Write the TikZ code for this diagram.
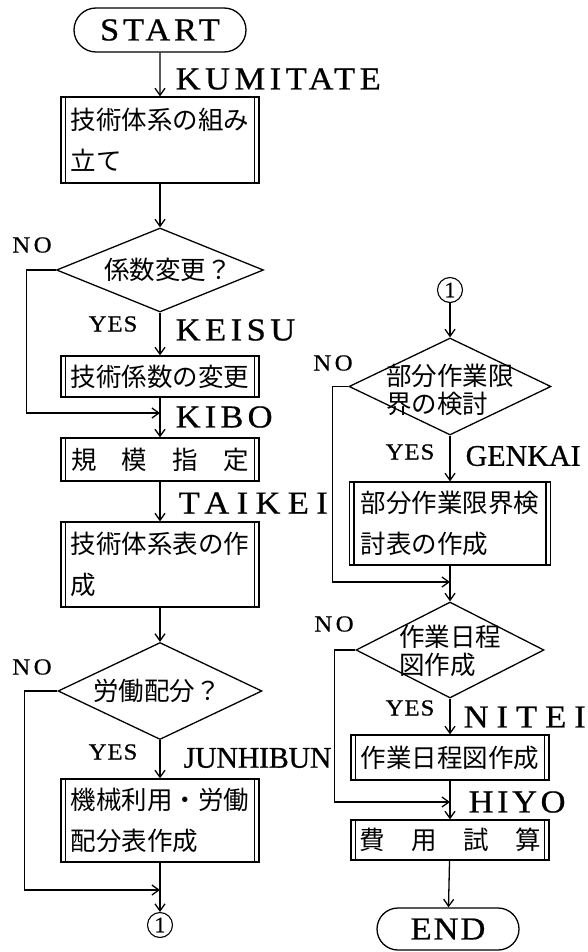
\documentclass[tikz,border=0pt]{standalone}
\usepackage{fontspec}
\setmainfont{Liberation Serif}
\newfontfamily\lat[FakeStretch=1.08,FakeBold=0.6]{Liberation Serif}
\newfontfamily\latc[FakeBold=0.6]{Liberation Serif}
\newfontfamily\jp{Noto Sans CJK JP}
\usetikzlibrary{arrows.meta,shapes.geometric,shapes.misc}
\newcommand\jpf{\jp\fontsize{25.5}{41}\selectfont}
\newcommand\jpd{\jp\fontsize{25.5}{28}\selectfont}
\newcommand\lbf[1]{\lat\fontsize{32}{36}\selectfont\addfontfeature{LetterSpace=#1}}
\newcommand\lbc[1]{\latc\fontsize{30}{36}\selectfont\addfontfeature{LetterSpace=#1}}
\begin{document}
\begin{tikzpicture}[x=1pt,y=-1pt,line width=1.3pt,
  arr/.style={-{Straight Barb[length=7pt,width=10pt]}},
  predef/.style={draw, rectangle, minimum width=198pt, inner sep=0pt, font=\jpf, align=left,
    path picture={\draw[line width=1.2pt]
      ([xshift=4.5pt]path picture bounding box.north west) -- ([xshift=4.5pt]path picture bounding box.south west)
      ([xshift=-4.5pt]path picture bounding box.north east) -- ([xshift=-4.5pt]path picture bounding box.south east);}},
  term/.style={draw, rounded rectangle, inner sep=0pt},
  dec/.style={draw, diamond, inner sep=0pt},
  conn/.style={draw, circle, minimum size=25pt, inner sep=0pt, line width=1.1pt, font=\latc\fontsize{22}{22}\selectfont},
  lab/.style={anchor=west, inner sep=0pt},
  yn/.style={inner sep=0pt, font=\lat\fontsize{23}{24}\selectfont\addfontfeature{LetterSpace=4}},
  no/.style={inner sep=0pt, font=\lat\fontsize{23}{24}\selectfont\addfontfeature{LetterSpace=15}}]
\useasboundingbox (0,0) rectangle (588,952);
% left column
\node[term, minimum width=172pt, minimum height=44pt] (start) at (160,30) {\lbf{12}START};
\node[predef, minimum height=86pt] (b1) at (160,140) {技術体系の組み\\立て};
\node[dec, minimum width=207pt, minimum height=84pt,
  label={[font=\jpf, xshift=8pt]center:係数変更？}] (d1) at (160,270) {};
\node[predef, minimum height=41pt] (b2) at (160,376.5) {技術係数の変更};
\node[predef, minimum height=43pt] (b3) at (160,459.5) {\makebox[178pt][s]{規\hfil 模\hfil 指\hfil 定}};
\node[predef, minimum height=85pt] (b4) at (160,564.5) {技術体系表の作\\成};
\node[dec, minimum width=204pt, minimum height=97pt,
  label={[font=\jpf, xshift=-3pt]center:労働配分？}] (d2) at (160,691) {};
\node[predef, minimum height=83pt] (b5) at (160,820.5) {機械利用・労働\\配分表作成};
\node[conn] (c1) at (160,925) {1};
\coordinate (j1) at (160,413);
\coordinate (j2) at (160,890);
% right column
\node[conn] (c2) at (450,290) {1};
\node[dec, minimum width=202pt, minimum height=97pt,
  label={[font=\jpd, align=left, yshift=-3pt]center:部分作業限\\界の検討}] (d3) at (450,386.5) {};
\node[predef, minimum width=201pt, minimum height=83pt] (b6) at (450,523.5) {部分作業限界検\\討表の作成};
\node[dec, minimum width=188pt, minimum height=96pt,
  label={[font=\jpd, align=left, yshift=-1pt]center:作業日程\\図作成}] (d4) at (450,650) {};
\node[predef, minimum height=45pt] (b7) at (450,757.5) {作業日程図作成};
\node[predef, minimum height=40pt] (b8) at (450,840) {\makebox[182pt][s]{費\hfil 用\hfil 試\hfil 算}};
\node[term, minimum width=142pt, minimum height=42pt] (end) at (448,929) {\lbf{6}END};
\coordinate (j3) at (450,582);
\coordinate (j4) at (450,802);
% labels
\node[lab] (l1) at (175,79) {\lbf{14}KUMITATE};
\node[lab] (l2) at (175,330) {\lbf{14}KEISU};
\node[lab] (l3) at (175,417) {\lbf{13}KIBO};
\node[lab] (l4) at (178,503) {\lbf{23}TAIKEI};
\node[lab] (l5) at (183,758) {\lbc{-1}JUNHIBUN};
\node[lab] (l6) at (465,456) {\lbc{0}GENKAI};
\node[lab] (l7) at (463,717) {\lbf{25}NITEI};
\node[lab] (l8) at (468,802) {\lbf{11}HIYO};
\node[no] (n1) at (32,245) {NO};
\node[yn] (y1) at (113,324) {YES};
\node[no] (n2) at (32,667) {NO};
\node[yn] (y2) at (113,752) {YES};
\node[no] (n3) at (333,363) {NO};
\node[yn] (y3) at (410,452) {YES};
\node[no] (n4) at (334,624) {NO};
\node[yn] (y4) at (410,708) {YES};
% connectors left
\draw[arr] (start) -- (b1);
\draw[arr] (b1) -- (d1);
\draw[arr] (d1) -- (b2);
\draw[arr] (b2) -- (b3);
\draw[arr] (d1.west) -- ++(-29.5,0) |- (j1);
\draw[arr] (b3) -- (b4);
\draw[arr] (b4) -- (d2);
\draw[arr] (d2) -- (b5);
\draw[arr] (b5) -- (c1);
\draw[arr] (d2.west) -- ++(-33,0) |- (j2);
% connectors right
\draw[arr] (c2) -- (d3);
\draw[arr] (d3) -- (b6);
\draw[arr] (b6) -- (d4);
\draw[arr] (d3.west) -- ++(-16,0) |- (j3);
\draw[arr] (d4) -- (b7);
\draw[arr] (b7) -- (b8);
\draw[arr] (d4.west) -- ++(-21,0) |- (j4);
\draw[arr] (b8) -- (end);
\end{tikzpicture}
\end{document}
